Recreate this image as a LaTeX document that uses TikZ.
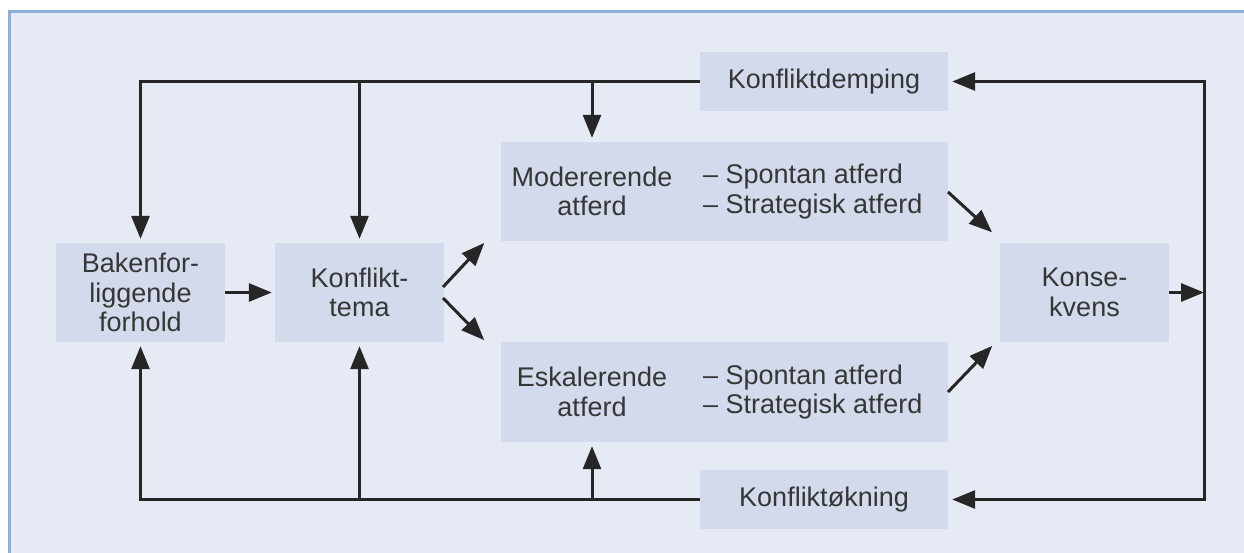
\documentclass[tikz,border=0pt]{standalone}
\usepackage{fontspec}
\setmainfont{Liberation Sans}
\usetikzlibrary{arrows.meta}
\definecolor{bgc}{HTML}{E6EAF5}
\definecolor{boxc}{HTML}{D2DAEB}
\definecolor{framec}{HTML}{8EAFD8}
\definecolor{txtc}{HTML}{363636}
\definecolor{linec}{HTML}{262626}
\tikzset{
  box/.style={fill=boxc, draw=none, inner sep=0pt},
  txt/.style={text=txtc, font=\fontsize{27}{29.5}\selectfont, inner sep=0pt},
  conn/.style={draw=linec, line width=3pt},
  arr/.style={conn, -{Triangle[length=23pt,width=18pt]}, shorten >=4pt},
}
\begin{document}
\begin{tikzpicture}[x=1pt,y=-1pt]
\useasboundingbox (0,0) rectangle (1244,552);
\fill[white] (0,0) rectangle (1244,552);
\fill[bgc] (9,11) rectangle (1250,560);
\draw[framec, line width=3pt] (9,560) -- (9,11) -- (1250,11);

% boxes
\node[box, minimum width=169pt, minimum height=99pt] (bak) at (140.5,292.5) {};
\node[txt, align=center] (bakt) at (bak.center) {Bakenfor-\\liggende\\forhold};
\node[box, minimum width=169pt, minimum height=99pt] (kt) at (359.5,292.5) {};
\node[txt, align=center] (ktt) at (kt.center) {Konflikt-\\tema};
\node[box, minimum width=169pt, minimum height=99pt] (kons) at (1084.5,292.5) {};
\node[txt, align=center] (konst) at (kons.center) {Konse-\\kvens};
\node[box, minimum width=447pt, minimum height=99pt] (mod) at (724.5,191.5) {};
\node[txt, align=center] (moda) at (592,191.5) {Modererende\\atferd};
\node[txt, align=left, anchor=west] (modb) at (703,191.5) {– Spontan atferd\\– Strategisk atferd};
\node[box, minimum width=447pt, minimum height=100pt] (esk) at (724.5,392) {};
\node[txt, align=center] (eska) at (592,392) {Eskalerende\\atferd};
\node[txt, align=left, anchor=west] (eskb) at (703,392) {– Spontan atferd\\– Strategisk atferd};
\node[box, minimum width=248pt, minimum height=59pt] (kd) at (824,81.5) {};
\node[txt] (kdt) at (kd.center) {Konfliktdemping};
\node[box, minimum width=248pt, minimum height=59pt] (ko) at (824,499.5) {};
\node[txt] (kot) at (ko.center) {Konfliktøkning};

% helper coordinates
\coordinate (rtop) at (1204,81.5);
\coordinate (rbot) at (1204,499.5);
\coordinate (tmod) at (592,81.5);
\coordinate (bmod) at (592,499.5);
\coordinate (ktu1) at (443,287);
\coordinate (ktu2) at (487,240);
\coordinate (ktd1) at (443,298);
\coordinate (ktd2) at (487,343);
\coordinate (mu1) at (948,192);
\coordinate (mu2) at (995,235);
\coordinate (ed1) at (948,392);
\coordinate (ed2) at (995,343);

% top feedback
\draw[arr] (kd.west) -| (bak.north);
\draw[arr] (kd.west -| kt.north) -- (kt.north);
\draw[arr] (tmod) -- (tmod |- mod.north);
% bottom feedback
\draw[arr] (ko.west) -| (bak.south);
\draw[arr] (ko.west -| kt.south) -- (kt.south);
\draw[arr] (bmod) -- (bmod |- esk.south);
% right side
\draw[conn, line cap=rect] (rtop) -- (rbot);
\draw[arr] (rtop) -- (kd.east);
\draw[arr] (rbot) -- (ko.east);
\draw[arr, shorten >=0pt] (kons.east) -- (kons.east -| rtop);
% main flow
\draw[arr, shorten >=3pt] (bak.east) -- (kt.west);
\draw[arr] (ktu1) -- (ktu2);
\draw[arr] (ktd1) -- (ktd2);
\draw[arr] (mu1) -- (mu2);
\draw[arr] (ed1) -- (ed2);
\end{tikzpicture}
\end{document}
